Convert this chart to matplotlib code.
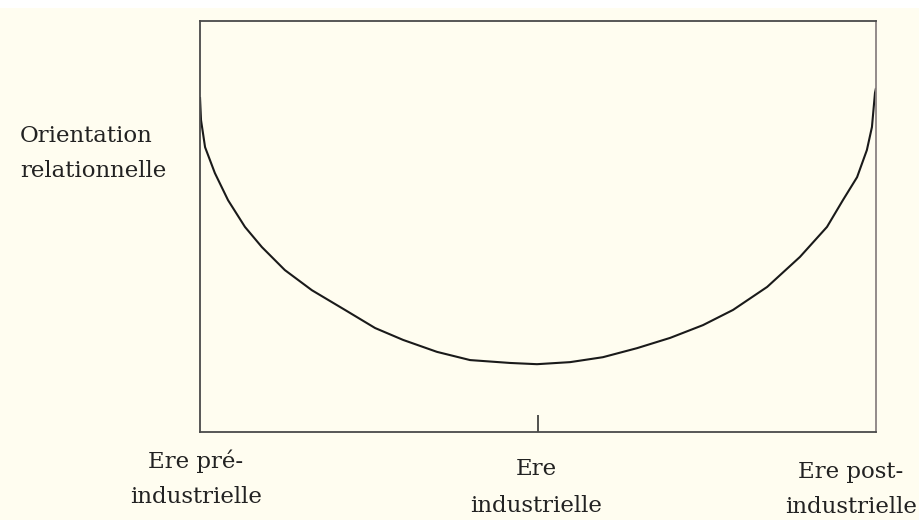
import matplotlib.pyplot as plt
from matplotlib.patches import Rectangle

# ~ Points (x: 0 = pré-industriel, 1 = industriel, 2 = post-industriel)
courbe_x = [0.0, 0.003, 0.015, 0.044, 0.083, 0.133, 0.183, 0.251, 0.331, 0.429, 0.518,
            0.601, 0.701, 0.799, 0.917, 0.997, 1.095, 1.192, 1.293, 1.391, 1.488,
            1.577, 1.678, 1.775, 1.855, 1.902, 1.944, 1.973, 1.988, 1.997, 2.0]
courbe_y = [81.5, 75.9, 69.3, 63.0, 56.4, 49.9, 45.0, 39.4, 34.5, 29.7, 25.3,
            22.4, 19.5, 17.5, 16.8, 16.5, 17.0, 18.2, 20.4, 22.9, 26.0,
            29.7, 35.3, 42.6, 49.9, 56.4, 62.0, 68.6, 74.2, 82.5, 83.7]

ere_labels = [("Ere pré-", "industrielle"), ("Ere", "industrielle"), ("Ere post-", "industrielle")]
ylabel = ("Orientation", "relationnelle")

fond = "#fffdf0"
encre = "#222222"
W, H = 919, 520

fig = plt.figure(figsize=(W/100, H/100), dpi=100, facecolor=fond)
fig.patches.append(Rectangle((0, 1 - 8/H), 1, 8/H, transform=fig.transFigure,
                             facecolor="white", edgecolor="none", zorder=-1))
ax = fig.add_axes([200/W, 88/H, 676/W, 411/H])
ax.set_facecolor(fond)

ax.plot(courbe_x, courbe_y, color="#1a1a1a", lw=1.5, solid_capstyle="butt")

ax.set_xlim(0, 2)
ax.set_ylim(0, 100)
ax.set_xticks([1])
ax.set_xticklabels([""])
ax.set_yticks([])
ax.tick_params(axis="x", direction="in", length=12.5, width=1.1, color=encre)
for s in ax.spines.values():
    s.set_color("#4a4a4a")
    s.set_linewidth(1.3)
ax.spines["right"].set_color("#8a8282")

police = "DejaVu Serif"
taille = 16.5

def texte(px, py, s, ha="center"):
    # ~ position en pixels, py = ligne de base
    fig.text(px/W, 1 - py/H, s, ha=ha, va="baseline", fontsize=taille,
             family=police, color=encre)

# ~ étiquettes sous l'axe
centres = [196, 536, 851]
bases = [(468, 503), (475, 512), (478, 513)]
for cx, (l1, l2), (b1, b2) in zip(centres, ere_labels, bases):
    texte(cx, b1, l1)
    texte(cx, b2, l2)

texte(20, 142, ylabel[0], ha="left")
texte(20, 177, ylabel[1], ha="left")

fig.savefig("out.png", dpi=100, facecolor=fond)
